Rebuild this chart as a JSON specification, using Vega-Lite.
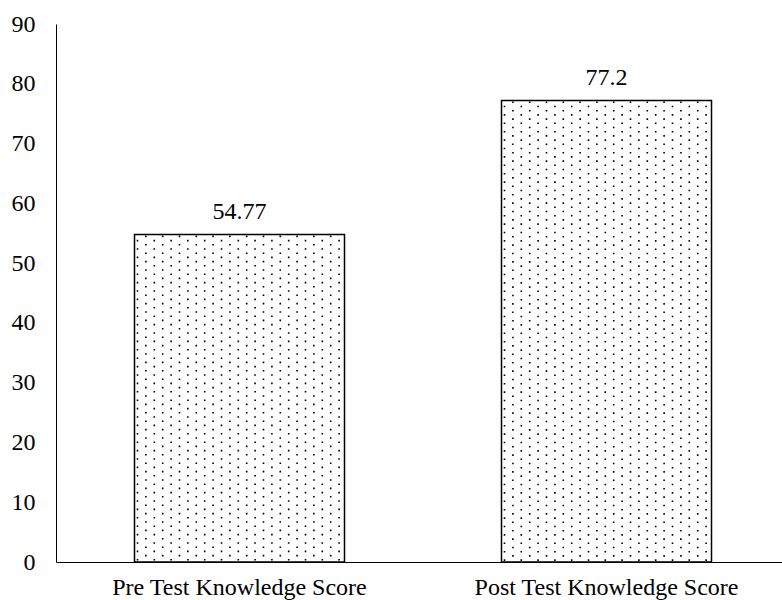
{
  "$schema": "https://vega.github.io/schema/vega-lite/v6.json",
  "width": 726,
  "height": 538,
  "autosize": {"type": "none"},
  "padding": {"left": 56, "top": 24, "right": 0, "bottom": 38},
  "background": "white",
  "config": {
    "view": {"stroke": null},
    "font": "Liberation Serif",
    "rule": {"strokeDash": [1.6, 6.8], "strokeWidth": 1.6, "color": "#000", "strokeCap": "butt"}
  },
  "data": {
    "values": [
      {"category": "Pre Test Knowledge Score", "score": 54.77, "label": "54.77"},
      {"category": "Post Test Knowledge Score", "score": 77.2, "label": "77.2"}
    ]
  },
  "encoding": {
    "x": {
      "field": "category",
      "type": "nominal",
      "sort": null,
      "scale": {"range": [0, 734], "paddingInner": 0, "paddingOuter": 0},
      "axis": {
        "title": null,
        "ticks": false,
        "domain": true,
        "domainColor": "#000",
        "domainWidth": 1,
        "labelAngle": 0,
        "labelFontSize": 24,
        "labelFont": "Liberation Serif",
        "labelColor": "#000",
        "labelBaseline": "alphabetic",
        "labelPadding": 32,
        "labelLimit": 400,
        "labelOverlap": false
      }
    },
    "y": {
      "field": "score",
      "type": "quantitative",
      "scale": {"domain": [0, 90], "nice": false},
      "axis": {
        "title": null,
        "values": [0, 10, 20, 30, 40, 50, 60, 70, 80, 90],
        "ticks": false,
        "grid": false,
        "domain": true,
        "domainColor": "#000",
        "domainWidth": 1,
        "labelFontSize": 24,
        "labelFont": "Liberation Serif",
        "labelColor": "#000",
        "labelPadding": 21
      }
    }
  },
  "layer": [
    {
      "mark": {"type": "bar", "size": 210, "fill": "#ffffff", "stroke": "#000", "strokeWidth": 1.5}
    },
    {
      "encoding": {"y2": {"datum": 0}},
      "layer": [
        {"mark": {"type": "rule", "xOffset": -102, "strokeDashOffset": 3.2}, "encoding": {}},
        {"mark": {"type": "rule", "xOffset": -93.6, "strokeDashOffset": 7.4}, "encoding": {}},
        {"mark": {"type": "rule", "xOffset": -85.2, "strokeDashOffset": 3.2}, "encoding": {}},
        {"mark": {"type": "rule", "xOffset": -76.8, "strokeDashOffset": 7.4}, "encoding": {}},
        {"mark": {"type": "rule", "xOffset": -68.4, "strokeDashOffset": 3.2}, "encoding": {}},
        {"mark": {"type": "rule", "xOffset": -60, "strokeDashOffset": 7.4}, "encoding": {}},
        {"mark": {"type": "rule", "xOffset": -51.6, "strokeDashOffset": 3.2}, "encoding": {}},
        {"mark": {"type": "rule", "xOffset": -43.2, "strokeDashOffset": 7.4}, "encoding": {}},
        {"mark": {"type": "rule", "xOffset": -34.8, "strokeDashOffset": 3.2}, "encoding": {}},
        {"mark": {"type": "rule", "xOffset": -26.4, "strokeDashOffset": 7.4}, "encoding": {}},
        {"mark": {"type": "rule", "xOffset": -18, "strokeDashOffset": 3.2}, "encoding": {}},
        {"mark": {"type": "rule", "xOffset": -9.6, "strokeDashOffset": 7.4}, "encoding": {}},
        {"mark": {"type": "rule", "xOffset": -1.2, "strokeDashOffset": 3.2}, "encoding": {}},
        {"mark": {"type": "rule", "xOffset": 7.2, "strokeDashOffset": 7.4}, "encoding": {}},
        {"mark": {"type": "rule", "xOffset": 15.6, "strokeDashOffset": 3.2}, "encoding": {}},
        {"mark": {"type": "rule", "xOffset": 24, "strokeDashOffset": 7.4}, "encoding": {}},
        {"mark": {"type": "rule", "xOffset": 32.4, "strokeDashOffset": 3.2}, "encoding": {}},
        {"mark": {"type": "rule", "xOffset": 40.8, "strokeDashOffset": 7.4}, "encoding": {}},
        {"mark": {"type": "rule", "xOffset": 49.2, "strokeDashOffset": 3.2}, "encoding": {}},
        {"mark": {"type": "rule", "xOffset": 57.6, "strokeDashOffset": 7.4}, "encoding": {}},
        {"mark": {"type": "rule", "xOffset": 66, "strokeDashOffset": 3.2}, "encoding": {}},
        {"mark": {"type": "rule", "xOffset": 74.4, "strokeDashOffset": 7.4}, "encoding": {}},
        {"mark": {"type": "rule", "xOffset": 82.8, "strokeDashOffset": 3.2}, "encoding": {}},
        {"mark": {"type": "rule", "xOffset": 91.2, "strokeDashOffset": 7.4}, "encoding": {}},
        {"mark": {"type": "rule", "xOffset": 99.6, "strokeDashOffset": 3.2}, "encoding": {}}
      ]
    },
    {
      "mark": {"type": "text", "baseline": "alphabetic", "dy": -16, "fontSize": 24, "font": "Liberation Serif", "color": "#000"},
      "encoding": {"text": {"field": "label"}}
    }
  ]
}
